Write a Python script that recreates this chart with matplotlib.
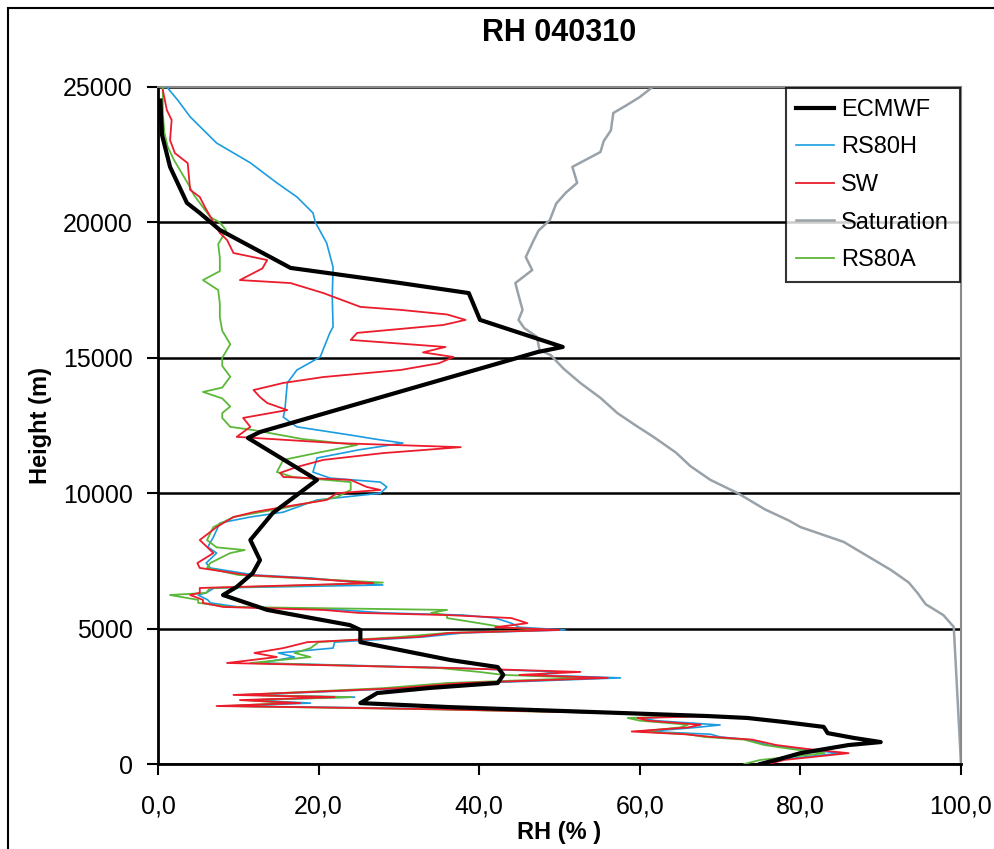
import matplotlib.pyplot as plt
from matplotlib.patches import Rectangle
from matplotlib.ticker import FuncFormatter

plt.rcParams['font.family'] = ['Liberation Sans', 'DejaVu Sans']

# ECMWF model profile
ecmwf_h = [0, 150, 400, 700, 810, 960, 1140, 1370, 1550, 1700, 1770, 1880, 2100, 2250,
           2620, 2810, 2990, 3290, 3580, 3840, 4500, 4950, 5130, 5690, 6240, 6540, 7050,
           7530, 8270, 9270, 10490, 12040, 12260, 15215, 15400, 16400, 17390, 17760,
           18320, 19720, 20350, 20720, 22050, 23230, 24500]
ecmwf_rh = [75, 77, 80, 86, 90, 86.7, 83.4, 82.9, 78, 73.4, 68.5, 58, 36.4, 25.2,
            27.3, 33.9, 42.3, 43, 42.3, 36.4, 25.2, 25.2, 23.9, 13.6, 8.1, 9.8, 11.8,
            12.7, 11.5, 14.3, 19.8, 11.2, 12.7, 47.3, 50.4, 40.1, 38.7, 30.2,
            16.5, 7.7, 5.2, 3.6, 1.5, 0.5, 0.3]

# RS80H sonde
rs80h_h = [0, 150, 400, 550, 700, 900, 1000, 1100, 1200, 1350, 1440, 1600, 1700, 1760,
           1880, 1950, 2020, 2080, 2140, 2250, 2360, 2470, 2550, 2660, 2800, 2990, 3180,
           3290, 3400, 3545, 3730, 3950, 4100, 4280, 4500, 4690, 4840, 4950, 5050, 5200,
           5390, 5500, 5580, 5690, 5800, 5950, 6060, 6240, 6320, 6500, 6610, 6870, 6980,
           7240, 7420, 7790, 8010, 8380, 8900, 9120, 9300, 9750, 10000, 10230, 10410,
           10560, 10780, 11300, 11600, 11850, 12000, 12150, 12450, 12810, 13070, 14070,
           14550, 15030, 15920, 16140, 17250, 18350, 19240, 20000, 20350, 20940, 21460,
           22200, 22930, 23900, 24500, 25000]
rs80h_rh = [75, 77, 85, 80, 76, 73.5, 70, 68.8, 61, 67, 70, 62, 60, 66,
            57, 47, 37, 25, 9, 19, 11.5, 24.5, 11, 20, 31, 40, 57.6,
            47, 50, 37, 12.7, 17, 15, 21.8, 22, 33, 38, 50.7, 45, 44,
            42, 38, 28, 23, 10, 6.5, 6.2, 5, 6, 7, 28, 19, 12,
            6.5, 6, 7.3, 6.2, 6.9, 7.7, 11.5, 15.6, 19.8, 27.7, 28.5, 27.7,
            21.4, 19.3, 19.8, 25, 30.5, 27, 23.9, 17.3, 15.6, 15.8, 16.1,
            17.3, 20.2, 21.4, 21.8, 21.7, 21.8, 21, 19.6, 19.3, 17.3, 14.8,
            11.5, 7.3, 4, 2.5, 1.1]

# SW sonde
sw_h = [0, 150, 400, 550, 700, 900, 1000, 1100, 1200, 1350, 1450, 1600, 1700, 1760,
        1880, 1950, 2020, 2080, 2140, 2250, 2360, 2470, 2550, 2660, 2800, 2990, 3180,
        3290, 3400, 3545, 3730, 3950, 4100, 4280, 4500, 4690, 4840, 4950, 5050, 5200,
        5390, 5500, 5580, 5690, 5800, 5950, 6060, 6240, 6320, 6500, 6680, 6870, 6980,
        7240, 7420, 7790, 8270, 8750, 9120, 9300, 9490, 9750, 10000, 10120, 10230,
        10490, 10600, 10750, 10970, 11230, 11480, 11700, 11850, 12080, 12450, 12780,
        13070, 13330, 13550, 13810, 14070, 14290, 14550, 14800, 15030, 15200, 15400,
        15660, 15920, 16210, 16400, 16600, 16770, 16880, 17390, 17760, 17870, 18300,
        18610, 18870, 19350, 19610, 20530, 20940, 21200, 22190, 22560, 23040, 23780,
        24150, 24890]
sw_rh = [76, 78, 86, 81, 77, 74, 69, 65.5, 59, 66, 67.6, 61, 59.7, 68,
         58, 46, 35, 22.3, 7.3, 17.7, 10.2, 22, 9.4, 19, 30, 38, 56,
         45, 52.6, 36.4, 8.6, 14.8, 12, 15.6, 18.6, 32.3, 36.4, 50, 42, 46,
         44, 36, 25, 20.6, 8.1, 5.6, 5.6, 4, 5.2, 5.2, 26.8, 17.7, 11,
         5.2, 4.9, 6.9, 5.2, 7.3, 9.4, 11.9, 15.6, 21, 22.3, 27.7, 26,
         24, 15.6, 15.2, 17.3, 20.6, 28, 37.7, 22.3, 9.8, 11.5, 10.6,
         16.1, 13.6, 12.7, 11.9, 15.6, 20.6, 30.2, 35, 36.8, 33, 35.8,
         24, 24.8, 35.5, 38.3, 36, 30.2, 25.2, 20.6, 16.5, 10.2, 13,
         13.6, 9.4, 8.6, 7.7, 5.9, 5.2, 4, 3.7, 2.1, 1.5, 1.7,
         1.1, 0.6]

# saturation profile
sat_h = [0, 5060, 5500, 5900, 6310, 6700, 7160, 7600, 8200, 8750, 9000, 9400, 10000,
         10490, 11000, 11500, 12080, 12500, 12960, 13520, 14070, 14600, 15100, 15290,
         15770, 16100, 16400, 16770, 17200, 17760, 18240, 18720, 19350, 19700, 20090,
         20700, 21100, 21460, 22050, 22600, 23000, 23400, 24040, 24300, 24630, 25000]
sat_rh = [100, 99.1, 97.8, 95.6, 94.6, 93.5, 91.3, 88.8, 85.4, 80, 78.5, 75.6, 72.2,
          68.8, 66.3, 64.5, 61.7, 59.5, 57.2, 55.1, 52.6, 50.5, 48.9, 47.5,
          47.2, 45.6, 44.9, 45.4, 45.0, 44.5, 46.6, 45.8, 46.8, 47.4, 48.8,
          49.6, 50.8, 52.2, 51.6, 55.1, 55.5, 56.4, 56.7, 58.2, 60, 61.6]

# RS80A sonde
rs80a_h = [0, 150, 400, 550, 700, 900, 1000, 1100, 1200, 1350, 1450, 1600, 1700, 1760,
           1880, 1950, 2020, 2080, 2140, 2250, 2360, 2470, 2550, 2660, 2800, 2990, 3180,
           3290, 3400, 3545, 3730, 3950, 4100, 4280, 4500, 4690, 4840, 4950, 5050, 5200,
           5390, 5500, 5580, 5690, 5800, 5950, 6060, 6240, 6320, 6500, 6610, 6700, 6870,
           6980, 7240, 7420, 7790, 7900, 8000, 8270, 8750, 9120, 9450, 9860, 10120,
           10410, 10600, 10780, 11230, 11500, 11780, 12000, 12330, 12450, 12780, 12960,
           13200, 13500, 13740, 13900, 14300, 14700, 15000, 15500, 16000, 16500, 17000,
           17500, 17870, 18200, 18700, 19200, 19700, 20000, 20200, 20600, 21000, 21400,
           21800, 22300, 22800, 23300, 24000, 24500, 25000]
rs80a_rh = [73, 75, 83, 79, 75.5, 73, 68, 66, 60, 65, 66, 60, 58.5, 66,
            57, 45, 34, 21, 8.5, 16, 11, 24, 10.5, 18, 28, 36, 53.5,
            43, 40, 35, 11.5, 19, 17, 19, 20, 30, 36, 48.5, 43, 40,
            36, 36, 34, 36, 9, 5, 5, 1.5, 6, 6.5, 20, 28, 17,
            10, 6.1, 6.5, 9, 10.8, 7.3, 6.1, 6.9, 9.4, 15.6, 22.3, 24,
            24, 16.8, 14.8, 15.6, 20, 24.8, 18, 11.9, 9, 8, 8,
            9, 8, 5.6, 8, 9, 8, 8, 9, 8, 7.7, 7.7,
            7.5, 5.6, 7.7, 7.7, 7.5, 8.5, 7.7, 6.5, 5.5, 4.5, 3.8,
            3, 2, 1.2, 0.8, 0.6, 0.6, 0.6]

fig = plt.figure(figsize=(9.95, 8.49), dpi=100)
ax = fig.add_axes([158 / 995, 1 - 764 / 849, 803 / 995, 677 / 849])

# outer chart frame
fig.patches.append(Rectangle((8 / 995, -0.01), 2, 1 - 8 / 849 + 0.01, transform=fig.transFigure,
                             fill=False, edgecolor='black', linewidth=1.5))

ax.plot(ecmwf_rh, ecmwf_h, color='black', lw=3.0, label='ECMWF', zorder=5)
ax.plot(rs80h_rh, rs80h_h, color='#1b9ce0', lw=1.2, label='RS80H', zorder=3)
ax.plot(sw_rh, sw_h, color='#ec1c2c', lw=1.3, label='SW', zorder=4)
ax.plot(sat_rh, sat_h, color='#99a2a8', lw=1.8, label='Saturation', zorder=2)
ax.plot(rs80a_rh, rs80a_h, color='#5cb83a', lw=1.3, label='RS80A', zorder=3)

ax.set_xlim(0, 100)
ax.set_ylim(0, 25000)
ax.set_xticks([0, 20, 40, 60, 80, 100])
ax.set_yticks([0, 5000, 10000, 15000, 20000, 25000])
ax.xaxis.set_major_formatter(FuncFormatter(lambda v, p: f'{v:.1f}'.replace('.', ',')))
ax.tick_params(axis='both', labelsize=18, direction='out', length=8, width=1.5, colors='black')
ax.tick_params(axis='x', pad=14)
ax.tick_params(axis='y', pad=10)
ax.yaxis.grid(True, color='black', lw=1.8)
ax.set_axisbelow(True)

for side in ['left', 'bottom']:
    ax.spines[side].set_linewidth(2)
    ax.spines[side].set_color('black')
for side in ['top', 'right']:
    ax.spines[side].set_linewidth(1.5)
    ax.spines[side].set_color('#8a8a8a')

ax.set_title('RH 040310', fontsize=22, fontweight='bold', pad=33)
ax.set_xlabel('RH (% )', fontsize=17, fontweight='bold', labelpad=2)
ax.set_ylabel('Height (m)', fontsize=17, fontweight='bold', labelpad=8)

leg = ax.legend(loc='upper right', fontsize=17, frameon=True, fancybox=False,
                borderaxespad=0.05, handlelength=1.6, labelspacing=0.66, borderpad=0.45,
                handletextpad=0.3)
leg.get_frame().set_edgecolor('black')
leg.get_frame().set_linewidth(1.5)

fig.savefig('out.png', dpi=100)
